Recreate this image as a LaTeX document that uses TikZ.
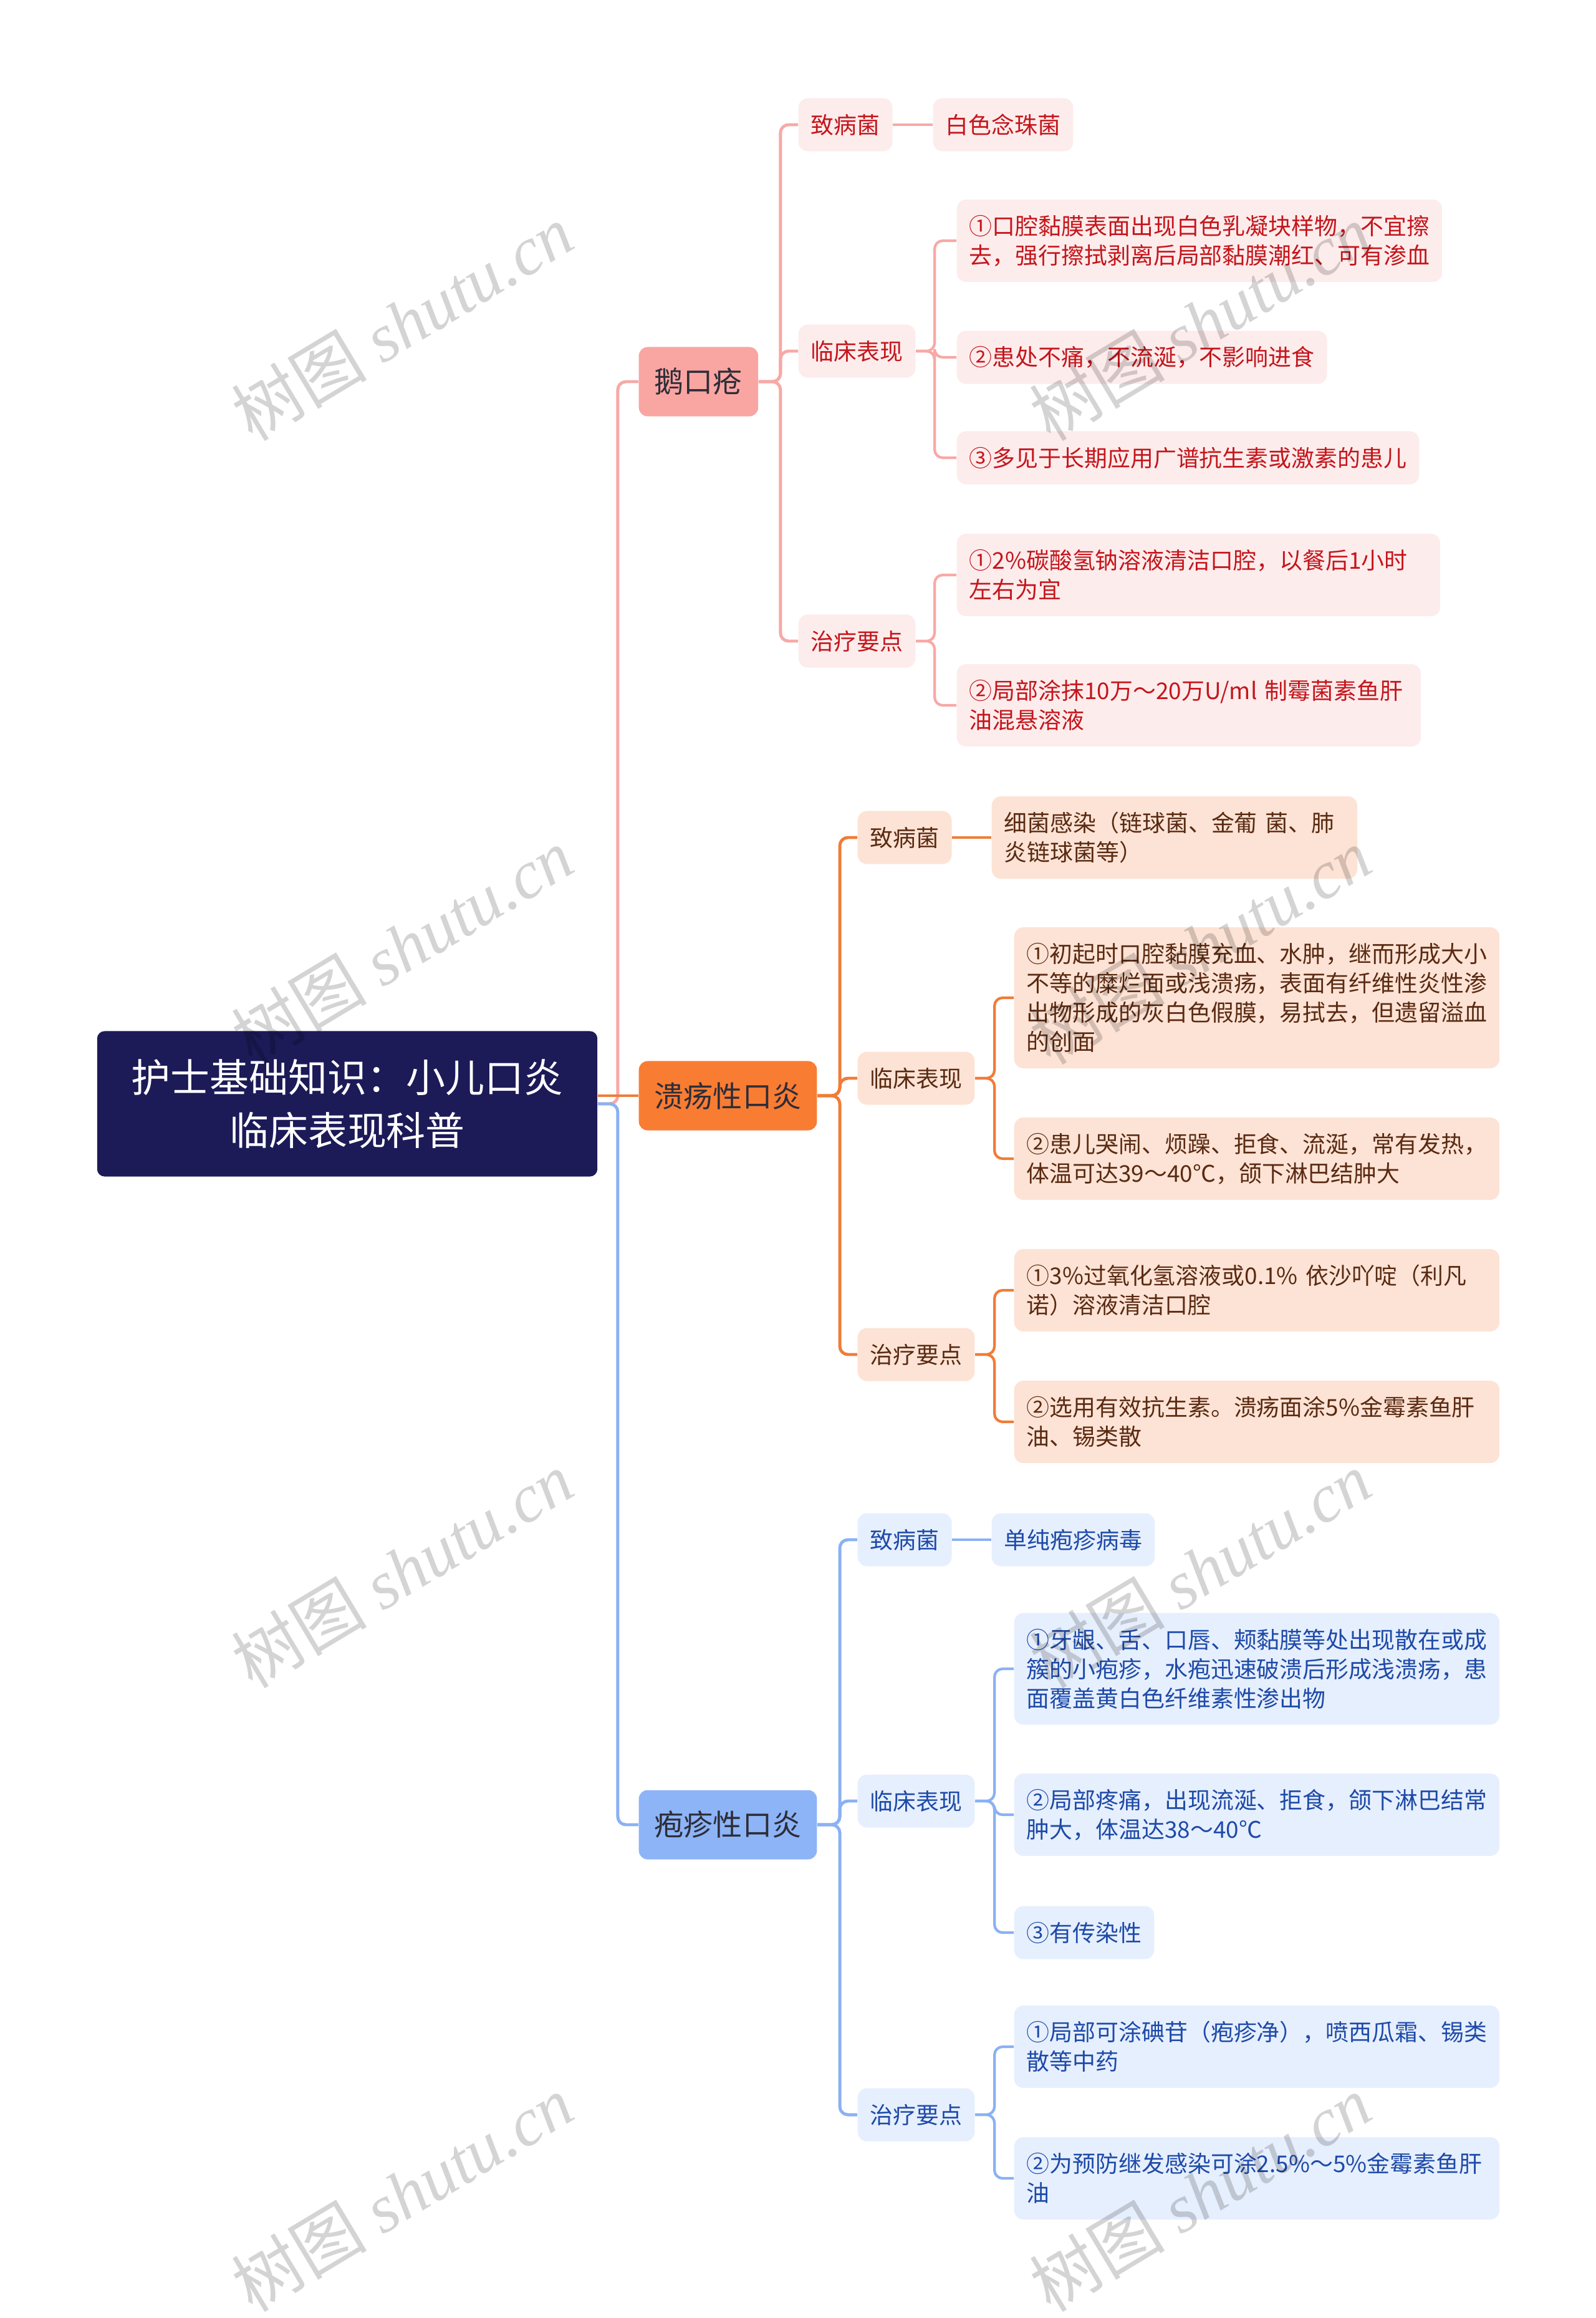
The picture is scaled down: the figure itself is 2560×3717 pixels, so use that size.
\documentclass[tikz,border=0pt]{standalone}
\usepackage{fontspec}
\setmainfont{Noto Sans CJK SC}
\newfontfamily\wmfont{Liberation Serif}

\definecolor{rootfill}{HTML}{1C1A57}
\definecolor{toptx}{HTML}{2D2D38}
\definecolor{pinkmain}{HTML}{F9A5A2}
\definecolor{pinkline}{HTML}{F7A9A6}
\definecolor{pinklt}{HTML}{FDECEC}
\definecolor{pinktx}{HTML}{C4161C}
\definecolor{orgmain}{HTML}{F97C33}
\definecolor{orgline}{HTML}{F07C38}
\definecolor{orglt}{HTML}{FDE3D5}
\definecolor{orgtx}{HTML}{5A2A12}
\definecolor{bluemain}{HTML}{8DB4F7}
\definecolor{blueline}{HTML}{8AB1F3}
\definecolor{bluelt}{HTML}{E6EFFD}
\definecolor{bluetx}{HTML}{1E4AA8}

\tikzset{
  rootbox/.style={fill=rootfill, text=white, rounded corners=0.12cm, align=center,
    minimum width=8.02cm, minimum height=2.33cm,
    font=\fontsize{17.9}{24.2}\selectfont},
  topbox/.style={rounded corners=0.14cm, inner xsep=0.25cm, minimum height=1.11cm,
    text=toptx, font=\fontsize{13.4}{16}\selectfont},
  subbox/.style={rounded corners=0.15cm, inner xsep=0.2cm, inner ysep=0.05cm,
    align=left, minimum height=0.85cm, font=\fontsize{10.5}{13.4}\selectfont},
  nrows/.style={minimum height={#1*0.47cm+0.38cm}},
  pinksub/.style={subbox, fill=pinklt, text=pinktx},
  orgsub/.style={subbox, fill=orglt, text=orgtx},
  bluesub/.style={subbox, fill=bluelt, text=bluetx},
  link/.style={line width=1.4pt, rounded corners=0.13cm},
  sublink/.style={line width=1.2pt, rounded corners=0.13cm},
  wm/.style={text=black, text opacity=0.17, rotate=31, font=\fontsize{31}{31}\selectfont}
}

\begin{document}
\begin{tikzpicture}[x=0.01cm, y=-0.01cm]
\useasboundingbox (0,0) rectangle (2560,3717);

% centre topic
\node[rootbox] (root) at (557,1770) {护士基础知识：小儿口炎\\临床表现科普};

% main topics
\node[topbox, fill=pinkmain, anchor=west] (e) at (1024,612) {鹅口疮};
\node[topbox, fill=orgmain, anchor=west] (k) at (1024,1757) {溃疡性口炎};
\node[topbox, fill=bluemain, anchor=west] (p) at (1024,2926) {疱疹性口炎};

% 鹅口疮
\node[pinksub, anchor=west] (e-a) at (1280,200) {致病菌};
\node[pinksub, anchor=west] (e-b) at (1280,563) {临床表现};
\node[pinksub, anchor=west] (e-c) at (1280,1028) {治疗要点};
\node[pinksub, anchor=west] (e-a1) at (1496,200) {白色念珠菌};
\node[pinksub, nrows=2, anchor=west] (e-b1) at (1534,386)
  {①口腔黏膜表面出现白色乳凝块样物，不宜擦\\去，强行擦拭剥离后局部黏膜潮红、可有渗血};
\node[pinksub, anchor=west] (e-b2) at (1534,573) {②患处不痛，不流涎，不影响进食};
\node[pinksub, anchor=west] (e-b3) at (1534,734) {③多见于长期应用广谱抗生素或激素的患儿};
\node[pinksub, nrows=2, text width=7.35cm, anchor=west] (e-c1) at (1534,922)
  {①2\%碳酸氢钠溶液清洁口腔，以餐后1小时\\左右为宜};
\node[pinksub, nrows=2, text width=7.04cm, anchor=west] (e-c2) at (1534,1131)
  {②局部涂抹10万～20万U/ml 制霉菌素鱼肝\\油混悬溶液};

% 溃疡性口炎
\node[orgsub, anchor=west] (k-a) at (1375,1343) {致病菌};
\node[orgsub, anchor=west] (k-b) at (1375,1729) {临床表现};
\node[orgsub, anchor=west] (k-c) at (1375,2172) {治疗要点};
\node[orgsub, nrows=2, text width=5.46cm, anchor=west] (k-a1) at (1590,1343)
  {细菌感染（链球菌、金葡 菌、肺\\炎链球菌等）};
\node[orgsub, nrows=4, anchor=west] (k-b1) at (1626,1600)
  {①初起时口腔黏膜充血、水肿，继而形成大小\\不等的糜烂面或浅溃疡，表面有纤维性炎性渗\\出物形成的灰白色假膜，易拭去，但遗留溢血\\的创面};
\node[orgsub, nrows=2, anchor=west] (k-b2) at (1626,1858)
  {②患儿哭闹、烦躁、拒食、流涎，常有发热，\\体温可达39～40℃，颌下淋巴结肿大};
\node[orgsub, nrows=2, text width=7.38cm, anchor=west] (k-c1) at (1626,2069)
  {①3\%过氧化氢溶液或0.1\% 依沙吖啶（利凡\\诺）溶液清洁口腔};
\node[orgsub, nrows=2, text width=7.38cm, anchor=west] (k-c2) at (1626,2280)
  {②选用有效抗生素。溃疡面涂5\%金霉素鱼肝\\油、锡类散};

% 疱疹性口炎
\node[bluesub, anchor=west] (p-a) at (1375,2469) {致病菌};
\node[bluesub, anchor=west] (p-b) at (1375,2888) {临床表现};
\node[bluesub, anchor=west] (p-c) at (1375,3391) {治疗要点};
\node[bluesub, anchor=west] (p-a1) at (1590,2469) {单纯疱疹病毒};
\node[bluesub, nrows=3, anchor=west] (p-b1) at (1626,2676)
  {①牙龈、舌、口唇、颊黏膜等处出现散在或成\\簇的小疱疹，水疱迅速破溃后形成浅溃疡，患\\面覆盖黄白色纤维素性渗出物};
\node[bluesub, nrows=2, anchor=west] (p-b2) at (1626,2910)
  {②局部疼痛，出现流涎、拒食，颌下淋巴结常\\肿大，体温达38～40℃};
\node[bluesub, anchor=west] (p-b3) at (1626,3099) {③有传染性};
\node[bluesub, nrows=2, anchor=west] (p-c1) at (1626,3282)
  {①局部可涂碘苷（疱疹净），喷西瓜霜、锡类\\散等中药};
\node[bluesub, nrows=2, text width=7.38cm, anchor=west] (p-c2) at (1626,3493)
  {②为预防继发感染可涂2.5\%～5\%金霉素鱼肝\\油};

% connectors from the centre
\draw[link, pinkline] (root.east) -- ++(32,0) |- (e.west);
\draw[link, orgline] (root.east |- k.west) -- (k.west);
\draw[link, blueline] (root.east) -- ++(32,0) |- (p.west);

% second level
\foreach \c in {a,b,c} {
  \draw[link, pinkline] (e.east) -- ++(35,0) |- (e-\c.west);
  \draw[link, orgline] (k.east) -- ++(36,0) |- (k-\c.west);
  \draw[link, blueline] (p.east) -- ++(36,0) |- (p-\c.west);
}

% third level
\draw[sublink, pinkline] (e-a.east) -- (e-a1.west);
\draw[sublink, orgline] (k-a.east) -- (k-a1.west);
\draw[sublink, blueline] (p-a.east) -- (p-a1.west);
\foreach \c in {1,2,3} \draw[sublink, pinkline] (e-b.east) -- ++(30,0) |- (e-b\c.west);
\foreach \c in {1,2} \draw[sublink, pinkline] (e-c.east) -- ++(30,0) |- (e-c\c.west);
\foreach \c in {1,2} \draw[sublink, orgline] (k-b.east) -- ++(31,0) |- (k-b\c.west);
\foreach \c in {1,2} \draw[sublink, orgline] (k-c.east) -- ++(31,0) |- (k-c\c.west);
\foreach \c in {1,2,3} \draw[sublink, blueline] (p-b.east) -- ++(31,0) |- (p-b\c.west);
\foreach \c in {1,2} \draw[sublink, blueline] (p-c.east) -- ++(31,0) |- (p-c\c.west);

% watermark
\foreach \wx/\wy [count=\i] in {645/517,1925/517,645/1517,1925/1517,645/2517,1925/2517,645/3517,1925/3517}
  \node[wm] (wm\i) at (\wx,\wy) {树图 {\wmfont\itshape shutu.cn}};
\end{tikzpicture}
\end{document}
